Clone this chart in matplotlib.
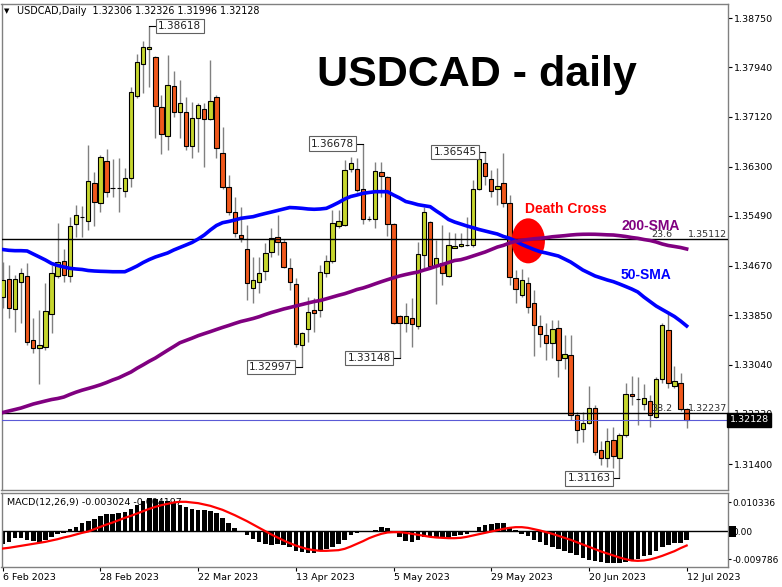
import numpy as np
import pandas as pd
import matplotlib
matplotlib.use("Agg")
import matplotlib.pyplot as plt
from matplotlib.patches import Ellipse, Rectangle

# ---- values (USDCAD daily, 6 Feb - 12 Jul 2023) ----
dates = pd.bdate_range("2023-02-06", periods=113)

opens = [1.34157, 1.34444, 1.33955, 1.34400, 1.34499, 1.33444, 1.33307, 1.33324, 1.33872, 1.34499,
         1.34746, 1.34499, 1.35356, 1.35476, 1.35410, 1.36036, 1.35707, 1.36399, 1.35944, 1.35949,
         1.35904, 1.36109, 1.37470, 1.37987, 1.38235, 1.38113, 1.37279, 1.36811, 1.37630, 1.37206,
         1.37196, 1.36641, 1.37097, 1.37246, 1.37086, 1.37453, 1.36521, 1.35970, 1.35558, 1.35174,
         1.34939, 1.34296, 1.34405, 1.34581, 1.34899, 1.35146, 1.35064, 1.34635, 1.34362, 1.33361,
         1.33620, 1.33938, 1.33938, 1.34543, 1.34751, 1.35323, 1.35339, 1.36257, 1.36262, 1.35927,
         1.35433, 1.35433, 1.36217, 1.36125, 1.35356, 1.33839, 1.33719, 1.33801, 1.33675, 1.34845,
         1.35393, 1.34663, 1.34708, 1.34499, 1.34965, 1.34998, 1.35009, 1.35009, 1.35927, 1.36356,
         1.36097, 1.35937, 1.36026, 1.35707, 1.34461, 1.34185, 1.34388, 1.34049, 1.33680, 1.33526,
         1.33389, 1.33637, 1.33142, 1.33197, 1.32208, 1.31977, 1.32081, 1.32318, 1.31631, 1.31494,
         1.31796, 1.31494, 1.31878, 1.32554, 1.32467, 1.32389, 1.32444, 1.32170, 1.32796, 1.33609,
         1.32686, 1.32740, 1.32306]
highs = [1.34734, 1.34680, 1.34515, 1.34630, 1.34713, 1.33806, 1.33938, 1.34388, 1.34680, 1.35372,
         1.34944, 1.35476, 1.35669, 1.35652, 1.36657, 1.36217, 1.36493, 1.36592, 1.36427, 1.36443,
         1.36283, 1.37618, 1.38152, 1.38371, 1.38618, 1.38129, 1.37481, 1.38141, 1.37877, 1.37729,
         1.37453, 1.37361, 1.37345, 1.37345, 1.38058, 1.37481, 1.36959, 1.36163, 1.35805, 1.35641,
         1.35339, 1.34817, 1.34817, 1.35047, 1.35285, 1.35504, 1.35108, 1.34790, 1.34461, 1.33581,
         1.34157, 1.34136, 1.34680, 1.34845, 1.35586, 1.35586, 1.36410, 1.36465, 1.36438, 1.36678,
         1.35480, 1.36382, 1.36382, 1.36147, 1.35377, 1.33856, 1.34049, 1.34131, 1.35064, 1.35641,
         1.35405, 1.35092, 1.35339, 1.35229, 1.35212, 1.35207, 1.35476, 1.36081, 1.36542, 1.36545,
         1.36245, 1.36273, 1.36521, 1.35833, 1.34597, 1.34609, 1.34487, 1.34268, 1.33856, 1.33719,
         1.33773, 1.33773, 1.33526, 1.33526, 1.32262, 1.32262, 1.32686, 1.32373, 1.31784, 1.31989,
         1.32015, 1.31911, 1.32730, 1.32851, 1.32839, 1.32719, 1.32537, 1.32839, 1.33719, 1.33884,
         1.33015, 1.32895, 1.32326]
lows = [1.33966, 1.33801, 1.33581, 1.33724, 1.33361, 1.33235, 1.32719, 1.33279, 1.33559, 1.34466,
        1.34405, 1.34405, 1.35146, 1.35146, 1.35257, 1.35323, 1.35558, 1.35805, 1.35805, 1.35553,
        1.35800, 1.35970, 1.37427, 1.37509, 1.37618, 1.36768, 1.36504, 1.36575, 1.37124, 1.36768,
        1.36575, 1.36438, 1.36547, 1.36300, 1.37069, 1.36438, 1.35927, 1.35504, 1.35146, 1.35064,
        1.34103, 1.34049, 1.34223, 1.34433, 1.34817, 1.34845, 1.34630, 1.34268, 1.33333, 1.32997,
        1.33416, 1.33581, 1.33828, 1.34487, 1.34708, 1.35285, 1.35323, 1.36217, 1.35888, 1.35356,
        1.35400, 1.35285, 1.35805, 1.35158, 1.33708, 1.33148, 1.33581, 1.33333, 1.33620, 1.34625,
        1.34625, 1.34037, 1.34350, 1.34487, 1.34955, 1.34981, 1.34993, 1.34981, 1.35916, 1.35998,
        1.35805, 1.35669, 1.35641, 1.34350, 1.34049, 1.34157, 1.33884, 1.33180, 1.33333, 1.33114,
        1.33142, 1.32839, 1.32961, 1.32125, 1.31741, 1.31768, 1.32060, 1.31549, 1.31384, 1.31356,
        1.31329, 1.31163, 1.31850, 1.32373, 1.32043, 1.32290, 1.32015, 1.32153, 1.32730, 1.32648,
        1.32648, 1.32279, 1.31996]
closes = [1.34433, 1.33966, 1.34449, 1.34548, 1.33416, 1.33307, 1.33361, 1.33927, 1.34553, 1.34734,
          1.34515, 1.35323, 1.35504, 1.35476, 1.36064, 1.35723, 1.36465, 1.35888, 1.35944, 1.35949,
          1.36114, 1.37536, 1.38020, 1.38277, 1.38268, 1.37305, 1.36839, 1.37646, 1.37196, 1.37345,
          1.36646, 1.37097, 1.37317, 1.37086, 1.37388, 1.36603, 1.35970, 1.35558, 1.35202, 1.35120,
          1.34378, 1.34433, 1.34553, 1.34883, 1.35120, 1.35064, 1.34652, 1.34395, 1.33373, 1.33564,
          1.33910, 1.33884, 1.34569, 1.34751, 1.35377, 1.35410, 1.36245, 1.36356, 1.35916, 1.35433,
          1.35440, 1.36234, 1.36147, 1.35356, 1.33729, 1.33719, 1.33839, 1.33708, 1.34861, 1.35558,
          1.34663, 1.34790, 1.34543, 1.35009, 1.34993, 1.35026, 1.35009, 1.35927, 1.36422, 1.36147,
          1.35904, 1.35982, 1.35697, 1.34487, 1.34279, 1.34433, 1.33993, 1.33691, 1.33543, 1.33389,
          1.33620, 1.33114, 1.33213, 1.32200, 1.31961, 1.32081, 1.32318, 1.31603, 1.31494, 1.31784,
          1.31532, 1.31878, 1.32554, 1.32526, 1.32467, 1.32483, 1.32208, 1.32796, 1.33691, 1.32730,
          1.32773, 1.32302, 1.32128]

sma50 = [1.34935, 1.34922, 1.34916, 1.34916, 1.34911, 1.34861, 1.34812, 1.34762, 1.34705, 1.34672,
         1.34647, 1.34625, 1.34614, 1.34606, 1.34589, 1.34581, 1.34576, 1.34573, 1.34569, 1.34569,
         1.34569, 1.34614, 1.34663, 1.34721, 1.34770, 1.34812, 1.34845, 1.34878, 1.34927, 1.34968,
         1.35009, 1.35051, 1.35108, 1.35174, 1.35257, 1.35331, 1.35377, 1.35397, 1.35421, 1.35449,
         1.35463, 1.35476, 1.35504, 1.35529, 1.35553, 1.35578, 1.35603, 1.35627, 1.35622, 1.35614,
         1.35603, 1.35598, 1.35603, 1.35614, 1.35660, 1.35710, 1.35767, 1.35809, 1.35833, 1.35861,
         1.35875, 1.35888, 1.35888, 1.35888, 1.35833, 1.35784, 1.35726, 1.35702, 1.35674, 1.35657,
         1.35641, 1.35570, 1.35504, 1.35430, 1.35388, 1.35356, 1.35323, 1.35295, 1.35265, 1.35240,
         1.35215, 1.35191, 1.35150, 1.35120, 1.35075, 1.35018, 1.34976, 1.34935, 1.34899, 1.34878,
         1.34853, 1.34828, 1.34779, 1.34729, 1.34663, 1.34597, 1.34548, 1.34499, 1.34466, 1.34433,
         1.34405, 1.34367, 1.34326, 1.34284, 1.34235, 1.34152, 1.34078, 1.34004, 1.33946, 1.33889,
         1.33831, 1.33757, 1.33675]
sma200 = [1.32249, 1.32274, 1.32298, 1.32323, 1.32356, 1.32389, 1.32414, 1.32439, 1.32463, 1.32480,
          1.32504, 1.32546, 1.32584, 1.32617, 1.32645, 1.32674, 1.32706, 1.32743, 1.32785, 1.32821,
          1.32869, 1.32916, 1.32979, 1.33035, 1.33094, 1.33147, 1.33211, 1.33274, 1.33335, 1.33398,
          1.33436, 1.33474, 1.33515, 1.33549, 1.33582, 1.33617, 1.33651, 1.33683, 1.33717, 1.33749,
          1.33773, 1.33798, 1.33828, 1.33864, 1.33897, 1.33925, 1.33955, 1.33979, 1.34004, 1.34029,
          1.34054, 1.34078, 1.34095, 1.34123, 1.34152, 1.34181, 1.34207, 1.34240, 1.34276, 1.34301,
          1.34334, 1.34370, 1.34405, 1.34438, 1.34469, 1.34499, 1.34523, 1.34545, 1.34564, 1.34597,
          1.34625, 1.34660, 1.34688, 1.34721, 1.34754, 1.34767, 1.34795, 1.34828, 1.34861, 1.34894,
          1.34935, 1.34976, 1.35004, 1.35042, 1.35070, 1.35087, 1.35100, 1.35112, 1.35121, 1.35131,
          1.35145, 1.35154, 1.35163, 1.35174, 1.35182, 1.35186, 1.35187, 1.35186, 1.35182, 1.35177,
          1.35174, 1.35163, 1.35150, 1.35133, 1.35120, 1.35100, 1.35084, 1.35059, 1.35026, 1.35001,
          1.34985, 1.34968, 1.34944]

# MACD main (histogram) and signal, in units of 1e-4
macd_hist = [-43.2, -37.4, -22.2, -22.2, -29.2, -33.9, -37.4, -29.2, -19.9, -10.5,
             -5.8, 9.3, 17.5, 29.2, 38.5, 44.4, 52.6, 59.6, 61.9, 64.2,
             66.6, 79.4, 94.6, 108.6, 118.0, 114.5, 106.3, 106.3, 99.3, 94.6,
             85.3, 79.4, 75.9, 73.6, 71.2, 64.2, 47.9, 29.2, 11.7, 1.0,
             -14.0, -25.7, -37.4, -43.2, -45.6, -43.2, -45.6, -52.6, -66.6, -72.4,
             -75.9, -75.9, -66.6, -60.7, -52.6, -43.2, -31.5, -14.0, -5.8, -1.0,
             1.0, 5.8, 15.2, 12.8, -2.3, -19.9, -33.9, -37.4, -31.5, -19.9,
             -17.5, -19.9, -22.2, -22.2, -17.5, -14.0, -10.5, -2.3, 15.2, 24.5,
             26.9, 29.2, 29.2, 15.2, 3.5, -8.2, -17.5, -29.2, -37.4, -45.6,
             -52.6, -60.7, -66.6, -75.9, -84.1, -92.3, -99.3, -103.9, -107.5, -111.0,
             -111.0, -111.0, -107.5, -101.6, -95.8, -87.6, -80.6, -68.9, -54.9, -45.6,
             -40.9, -40.9, -30.2]
macd_signal = [-59.6, -57.2, -53.7, -50.2, -46.7, -43.2, -39.7, -36.2, -31.5, -26.9,
               -21.0, -16.4, -10.5, -4.7, 0.0, 8.2, 16.4, 24.5, 31.5, 39.7,
               47.9, 54.9, 63.1, 71.2, 79.4, 86.4, 92.3, 96.9, 101.6, 104.0,
               104.0, 101.6, 99.3, 94.6, 89.9, 82.9, 75.9, 66.6, 57.2, 46.7,
               36.2, 24.5, 12.8, 1.2, -10.5, -21.0, -31.5, -40.9, -49.1, -56.1,
               -61.9, -65.4, -67.7, -67.7, -66.6, -65.4, -60.7, -52.6, -43.2, -33.9,
               -23.4, -15.2, -8.2, -3.5, -2.3, -2.3, -4.7, -8.2, -11.7, -15.2,
               -18.7, -21.0, -22.2, -23.4, -23.4, -22.2, -18.7, -14.0, -9.3, -4.7,
               0.0, 4.7, 9.3, 12.8, 15.2, 15.2, 12.8, 8.2, 3.5, -2.3,
               -8.2, -15.2, -22.2, -29.2, -37.4, -45.6, -53.7, -61.9, -70.1, -77.1,
               -84.1, -91.1, -96.9, -101.6, -102.8, -101.6, -98.1, -92.3, -85.3, -77.1,
               -68.9, -58.4, -49.1]

price_ticks = [1.38750, 1.37940, 1.37120, 1.36300, 1.35490, 1.34670,
               1.33850, 1.33040, 1.32230, 1.31400]
fib_levels = [(1.35112, "23.6"), (1.32237, "38.2")]
last_price = 1.32128
date_tick_idx = [0, 16, 32, 48, 64, 80, 96, 112]

GREEN = "#c6d62e"
ORANGE = "#f0581c"
WICK = "#808080"
FRAME = "#808080"
FS = 6.8

W, H = 782, 587
fig = plt.figure(figsize=(W / 100, H / 100), dpi=100)


def pbox(x0, y0, x1, y1):
    # pixel box (top-left origin) -> figure fraction rect
    return [x0 / W, 1 - y1 / H, (x1 - x0) / W, (y1 - y0) / H]


ax = fig.add_axes(pbox(1.5, 4, 728, 490))
axm = fig.add_axes(pbox(1.5, 493, 728, 567), sharex=ax)

x = np.arange(len(closes))
o = np.array(opens)
c = np.array(closes)
h = np.array(highs)
l = np.array(lows)
up = c >= o

# candles
ax.vlines(x, l, h, color=WICK, lw=1, zorder=2)
ax.bar(x, np.abs(c - o), bottom=np.minimum(o, c), width=0.72,
       color=np.where(up, GREEN, ORANGE), edgecolor="black", linewidth=0.8, zorder=3)

# death cross marker
ax.add_patch(Ellipse((86.06, 1.35078), width=5.46, height=0.00742, color="#ff0000", zorder=3.5, lw=0))

# fib / horizontal lines
for lev, name in fib_levels:
    ax.axhline(lev, color="black", lw=1, zorder=4)
    ax.text(109.6, lev, name, ha="right", va="bottom", fontsize=FS, color="#303030", zorder=4)
    ax.text(118.6, lev, f"{lev:.5f}", ha="right", va="bottom", fontsize=FS, color="#303030", zorder=4)
ax.axhline(last_price, color="#5a5ad6", lw=0.8, zorder=4)

# moving averages
ax.plot(x, sma50, color="#0000ff", lw=2.6, zorder=5)
ax.plot(x, sma200, color="#800080", lw=2.6, zorder=5)

# high / low price labels
bb = dict(boxstyle="square,pad=0.22", fc="white", ec="#606060", lw=0.8)
labels = [(24, highs[24], 29.0, 25.3), (59, highs[59], 54.0, 57.7), (79, highs[79], 74.1, 77.9),
          (49, lows[49], 43.9, 47.6), (65, lows[65], 60.0, 63.7), (101, lows[101], 96.0, 99.7)]
for bar, val, cx, edge in labels:
    ax.plot([edge, bar], [val, val], color="black", lw=0.8, zorder=6)
    ax.text(cx, val, f"{val:.5f}", ha="center", va="center", fontsize=7.5, color="#202020",
            bbox=bb, zorder=6)

# annotations
bold = dict(family="Liberation Sans", weight="bold")
ax.text(85.5, 1.35603, "Death Cross", color="#ff0000", fontsize=10, va="center", ha="left", **bold)
ax.text(101.4, 1.35330, "200-SMA", color="#800080", fontsize=10, va="center", ha="left", **bold)
ax.text(101.1, 1.34513, "50-SMA", color="#0000ff", fontsize=10, va="center", ha="left", **bold)
fig.text(477 / W, 1 - 75 / H, "USDCAD - daily", fontsize=31, ha="center", va="center", **bold)

# header
fig.text(4 / W, 1 - 11 / H, "\u25bc", fontsize=5, va="center", ha="left")
fig.text(17 / W, 1 - 11 / H, "USDCAD,Daily  1.32306 1.32326 1.31996 1.32128",
         fontsize=6.9, va="center", ha="left")

# main axis styling
ax.set_xlim(-0.2, 118.77)
ax.set_ylim(1.30972, 1.38981)
ax.yaxis.tick_right()
ax.set_yticks(price_ticks)
ax.set_yticklabels([f"{t:.5f}" for t in price_ticks])
ax.tick_params(axis="y", length=3, width=0.8, pad=1.5, labelsize=FS, colors="black")
ax.tick_params(axis="x", which="both", bottom=False, labelbottom=False)
for s in ax.spines.values():
    s.set_color(FRAME)
    s.set_linewidth(1)

# current price tag
ax.text(1.002, last_price, "1.32128", transform=ax.get_yaxis_transform(), ha="left", va="center",
        fontsize=FS, color="white", zorder=10, clip_on=False,
        bbox=dict(boxstyle="square,pad=0.3", fc="black", ec="black"))

# MACD panel
hist = np.array(macd_hist) * 1e-4
sig = np.array(macd_signal) * 1e-4
axm.text(0.007, 0.87, "MACD(12,26,9) -0.003024 -0.004197", transform=axm.transAxes,
         fontsize=FS, va="center", ha="left", zorder=1)
axm.bar(x, hist, width=0.75, color="black", zorder=2)
axm.axhline(0, color="black", lw=1, zorder=2)
axm.plot(x, sig, color="#ff0000", lw=1.6, zorder=3)
axm.set_ylim(-0.01244, 0.01349)
axm.yaxis.tick_right()
axm.set_yticks([0.010336, 0.0, -0.009786])
axm.set_yticklabels(["0.010336", "0.00", "-0.009786"])
axm.tick_params(axis="y", length=2, width=0.8, pad=1, labelsize=6.5)
axm.add_patch(Rectangle((1.0015, -0.0018), 0.01, 0.0036, transform=axm.get_yaxis_transform(),
                        fc="black", ec="none", clip_on=False, zorder=9))
axm.set_xticks(date_tick_idx)
axm.set_xticklabels([f"{dates[i].day} {dates[i]:%b %Y}" for i in date_tick_idx])
axm.tick_params(axis="x", length=3, width=0.8, pad=1.5, labelsize=FS)
for lbl in axm.get_xticklabels():
    lbl.set_horizontalalignment("left")
for s in axm.spines.values():
    s.set_color(FRAME)
    s.set_linewidth(1)

fig.savefig("out.png", dpi=100, facecolor="white")
